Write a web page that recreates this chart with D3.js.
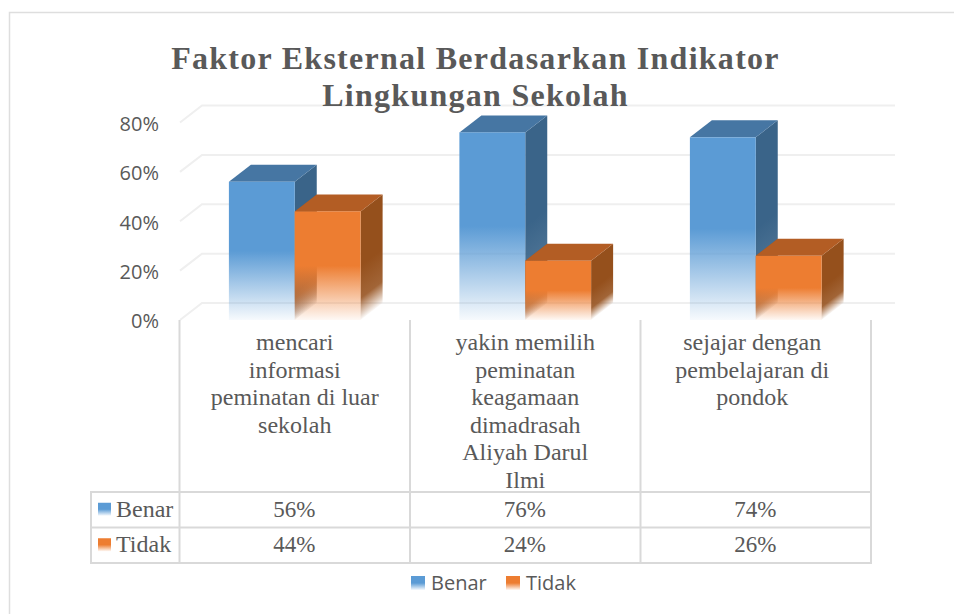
<!DOCTYPE html>
<html>
<head>
<meta charset="utf-8">
<script src="https://cdn.jsdelivr.net/npm/d3@7"></script>
<style>
  html, body { margin: 0; padding: 0; background: #fff; }
  svg { display: block; }
</style>
</head>
<body>
<svg id="chart" width="954" height="614"></svg>
<script>
const categories = [
    ["mencari", "informasi", "peminatan di luar", "sekolah"],
    ["yakin memilih", "peminatan", "keagamaan", "dimadrasah", "Aliyah Darul", "Ilmi"],
    ["sejajar dengan", "pembelajaran di", "pondok"]
];
const seriesNames = ["Benar", "Tidak"];
const benar = [56, 76, 74];
const tidak = [44, 24, 26];
const yTicks = [0, 20, 40, 60, 80];

const colors = { Benar: "#5b9bd5", Tidak: "#ed7d31" };
const topColors = { Benar: "#4676a3", Tidak: "#b35d24" };
const sideColors = { Benar: "#3a6489", Tidak: "#95501c" };

const svg = d3.select("#chart");
const serif = "'Liberation Serif', serif";
const sans = "'Open Sans', sans-serif";
const textColor = "#595959";
const lineColor = "#d9d9d9";

// depth of the 3d box
const depthX = 22, depthY = -17;

const xScale = d3.scaleBand().domain(d3.range(categories.length)).range([179.5, 871]);
const yScale = d3.scaleLinear().domain([0, 80]).range([320, 122.5]);
const innerScale = d3.scaleBand().domain(seriesNames).range([0, xScale.bandwidth()]).paddingInner(0).paddingOuter(0.75);

// chart frame, only left and top show in the picture
svg.append("path")
    .attr("d", "M9.5,614V12.5H954")
    .attr("fill", "none")
    .attr("stroke", "#dedede")
    .attr("stroke-width", 1.5);

// fading gradients
const defs = svg.append("defs");
function fade(id, color) {
    const g = defs.append("linearGradient").attr("id", id)
        .attr("x1", 0).attr("y1", 0).attr("x2", 0).attr("y2", 1);
    g.append("stop").attr("offset", 0.5).attr("stop-color", color);
    g.append("stop").attr("offset", 1).attr("stop-color", color).attr("stop-opacity", 0.05);
}
seriesNames.forEach(function (s) {
    fade("front" + s, colors[s]);
});

// side faces fade along the slanted bottom edge, so each one gets its own gradient
function sideFade(id, color, x, yBase, len) {
    const g = defs.append("linearGradient").attr("id", id)
        .attr("gradientUnits", "userSpaceOnUse")
        .attr("x1", x).attr("y1", yBase - len).attr("x2", x).attr("y2", yBase)
        .attr("gradientTransform", "translate(" + x + ",0) matrix(1," + (depthY / depthX) + ",0,1,0,0) translate(" + (-x) + ",0)");
    g.append("stop").attr("offset", 0).attr("stop-color", color);
    g.append("stop").attr("offset", 0.6).attr("stop-color", color).attr("stop-opacity", 0.88);
    g.append("stop").attr("offset", 1).attr("stop-color", color).attr("stop-opacity", 0.03);
}

// gridlines on the floor side and back wall
yTicks.forEach(function (t) {
    const y = yScale(t);
    svg.append("path")
        .attr("d", d3.line()([[180, y], [180 + depthX, y + depthY], [895, y + depthY]]))
        .attr("fill", "none")
        .attr("stroke", "#efefef")
        .attr("stroke-width", 2);
});

// y axis labels
const yAxis = d3.axisLeft(yScale).tickValues(yTicks).tickFormat(d => d + "%").tickSize(0).tickPadding(0);
const yG = svg.append("g").attr("transform", "translate(159,1.5)").call(yAxis);
yG.select(".domain").remove();
yG.selectAll("text")
    .attr("font-family", sans)
    .attr("font-size", 20)
    .attr("fill", textColor);

// bars
const values = { Benar: benar, Tidak: tidak };
function drawBar(s, i) {
    const x0 = xScale(i) + innerScale(s);
    const x1 = x0 + innerScale.bandwidth();
    const yTop = yScale(values[s][i]);
    const yBase = yScale(0);
    const fadeLen = (yBase - yTop) * 0.5;

    if (s === "Tidak") {
        // left inner wall shows through the faded front
        sideFade("wall" + s + i, sideColors[s], x0, yBase, fadeLen);
        svg.append("path")
            .attr("d", d3.line()([[x0, yTop], [x0 + depthX, yTop + depthY], [x0 + depthX, yBase + depthY], [x0, yBase]]) + "Z")
            .attr("fill", "url(#wall" + s + i + ")")
            .attr("opacity", 0.7);
    }
    sideFade("side" + s + i, sideColors[s], x1, yBase, fadeLen);
    svg.append("path")
        .attr("d", d3.line()([[x1, yTop], [x1 + depthX, yTop + depthY], [x1 + depthX, yBase + depthY], [x1, yBase]]) + "Z")
        .attr("fill", "url(#side" + s + i + ")");
    svg.append("path")
        .attr("d", d3.line()([[x0, yTop], [x0 + depthX, yTop + depthY], [x1 + depthX, yTop + depthY], [x1, yTop]]) + "Z")
        .attr("fill", topColors[s]);
    svg.append("rect")
        .attr("x", x0).attr("y", yTop)
        .attr("width", x1 - x0).attr("height", yBase - yTop)
        .attr("fill", "url(#front" + s + ")");
}
categories.forEach(function (c, i) {
    drawBar("Benar", i);
    drawBar("Tidak", i);
});

// data table
const rowY = [492, 527.5, 563];
const tableLeft = 91;
const colX = xScale.domain().map(d => xScale(d)).concat([871]);
const tableG = svg.append("g").attr("stroke", lineColor).attr("stroke-width", 2);
colX.forEach(function (x) {
    tableG.append("line").attr("x1", x).attr("x2", x).attr("y1", 320).attr("y2", rowY[2] + 1);
});
rowY.forEach(function (y) {
    tableG.append("line").attr("x1", tableLeft - 1).attr("x2", 872).attr("y1", y).attr("y2", y);
});
tableG.append("line").attr("x1", tableLeft).attr("x2", tableLeft).attr("y1", rowY[0]).attr("y2", rowY[2]);

// category labels
categories.forEach(function (lines, i) {
    lines.forEach(function (line, j) {
        svg.append("text")
            .attr("x", xScale(i) + xScale.bandwidth() / 2 + (i === 2 ? -3.5 : 0))
            .attr("y", 350 + j * 27.5)
            .attr("text-anchor", "middle")
            .attr("font-family", serif)
            .attr("font-size", 24)
            .attr("fill", textColor)
            .text(line);
    });
});

// table rows
seriesNames.forEach(function (s, r) {
    const yMid = (rowY[r] + rowY[r + 1]) / 2;
    svg.append("rect")
        .attr("x", 98).attr("y", yMid - 7)
        .attr("width", 13).attr("height", 13)
        .attr("fill", "url(#front" + s + ")");
    svg.append("text")
        .attr("x", 116).attr("y", yMid + 7)
        .attr("font-family", serif).attr("font-size", 24)
        .attr("fill", textColor)
        .text(s);
    values[s].forEach(function (v, i) {
        svg.append("text")
            .attr("x", xScale(i) + xScale.bandwidth() / 2 - 0.5)
            .attr("y", yMid + 7)
            .attr("text-anchor", "middle")
            .attr("font-family", serif).attr("font-size", 23)
            .attr("fill", textColor)
            .text(v + "%");
    });
});

// legend
const legendX = { Benar: 411, Tidak: 506 };
seriesNames.forEach(function (s) {
    svg.append("rect")
        .attr("x", legendX[s]).attr("y", 576)
        .attr("width", 14).attr("height", 14)
        .attr("fill", "url(#front" + s + ")");
    svg.append("text")
        .attr("x", legendX[s] + 20).attr("y", 590)
        .attr("font-family", sans).attr("font-size", 20)
        .attr("fill", textColor)
        .text(s);
});

// title
const titleLines = ["Faktor Eksternal Berdasarkan Indikator", "Lingkungan Sekolah"];
titleLines.forEach(function (line, i) {
    svg.append("text")
        .attr("x", 475.5)
        .attr("y", 69 + i * 37)
        .attr("text-anchor", "middle")
        .attr("font-family", serif)
        .attr("font-weight", "bold")
        .attr("font-size", 32)
        .attr("letter-spacing", 1.27)
        .attr("fill", textColor)
        .text(line);
});
</script>
</body>
</html>
